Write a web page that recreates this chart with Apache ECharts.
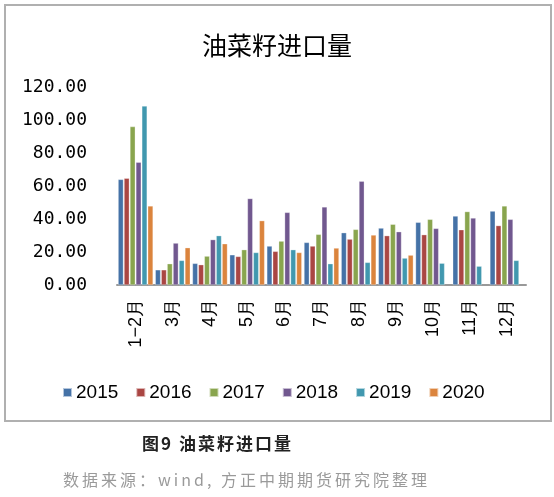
<!DOCTYPE html>
<html><head><meta charset="utf-8">
<script src="https://cdn.jsdelivr.net/npm/echarts@6/dist/echarts.min.js"></script>
<style>
html,body{margin:0;padding:0;background:#fff}
#wrap{position:relative;width:554px;height:497px}
#c{width:554px;height:497px}
.cap{position:absolute;white-space:nowrap;font-family:"Noto Sans CJK SC";}
#cap1{left:142px;top:430px;font-size:17px;font-weight:bold;color:#222;letter-spacing:2px;}
#cap2{left:63px;top:467px;font-size:16px;color:#9a9a9a;letter-spacing:3px;}
</style>
</head><body><div id="wrap"><div id="c"></div>
<div class="cap" id="cap1">图9 油菜籽进口量</div>
<div class="cap" id="cap2">数据来源：wind, 方正中期期货研究院整理</div>
</div>
<script>
var categories = ['1−2月','3月','4月','5月','6月','7月','8月','9月','10月','11月','12月'];
var years = ['2015','2016','2017','2018','2019','2020'];
var s2015 = [64.0, 9.2, 13.1, 18.3, 23.6, 25.8, 31.7, 34.5, 38.0, 41.8, 44.8];
var s2016 = [64.7, 9.2, 12.3, 17.3, 20.4, 23.6, 27.8, 29.9, 30.5, 33.5, 36.0];
var s2017 = [96.0, 12.9, 17.5, 21.4, 26.6, 30.7, 33.7, 36.8, 39.8, 44.5, 47.9];
var s2018 = [74.4, 25.4, 27.5, 52.4, 44.0, 47.3, 62.9, 32.3, 34.3, 40.6, 39.8];
var s2019 = [108.5, 14.9, 29.9, 19.7, 21.4, 12.9, 13.7, 16.3, 13.2, 11.4, 14.9];
var s2020 = [47.9, 22.6, 25.0, 39.0, 19.7, 22.4, 30.3, 18.1, null, null, null];
var yTicks = [0, 20, 40, 60, 80, 100, 120];
var colors = ['#4572A7','#AA4643','#89A54E','#71588F','#4198AF','#DB843D'];
var seriesData = [s2015, s2016, s2017, s2018, s2019, s2020];

var chart = echarts.init(document.getElementById('c'), null, {renderer:'canvas'});
chart.setOption({
  animation: false,
  color: colors,
  title: {
    text: '油菜籽进口量', left: 'center', top: 28,
    textStyle: {fontFamily: 'Noto Sans CJK SC', fontSize: 25, fontWeight: 'normal', color: '#000'}
  },
  legend: {
    data: years, left: 57, top: 378, itemWidth: 9, itemHeight: 9, itemGap: 17,
    icon: 'rect',
    textStyle: {fontFamily: 'Liberation Sans, Arial', fontSize: 19, color: '#000', padding: [0,0,0,-1]}
  },
  grid: {left: 117, right: 28, top: 87, bottom: 212},
  xAxis: {
    type: 'category', data: categories,
    axisLine: {lineStyle: {color: '#999', width: 2}},
    axisTick: {show: false},
    axisLabel: {rotate: 90, fontSize: 18, color: '#000', margin: 14, fontFamily: 'Liberation Sans, Arial'}
  },
  yAxis: {
    type: 'value', min: yTicks[0], max: yTicks[yTicks.length-1], interval: 20,
    axisLine: {show: false}, axisTick: {show: false}, splitLine: {show: false},
    axisLabel: {fontSize: 18, color: '#000', margin: 30, fontFamily: 'DejaVu Sans Mono',
      formatter: function(v){ return v.toFixed(2); }}
  },
  series: seriesData.map(function(d, i){
    return {name: years[i], type: 'bar', data: d, barGap: '12%', barCategoryGap: '6%',
      itemStyle: {borderColor: 'rgba(255,255,255,0.6)', borderWidth: 0.5}};
  }),
  graphic: [
    {type: 'rect', shape: {x: 5, y: 5, width: 546, height: 416},
     style: {fill: 'none', stroke: '#b0b0b0', lineWidth: 2}, z: -1}
  ]
});
</script></body></html>
